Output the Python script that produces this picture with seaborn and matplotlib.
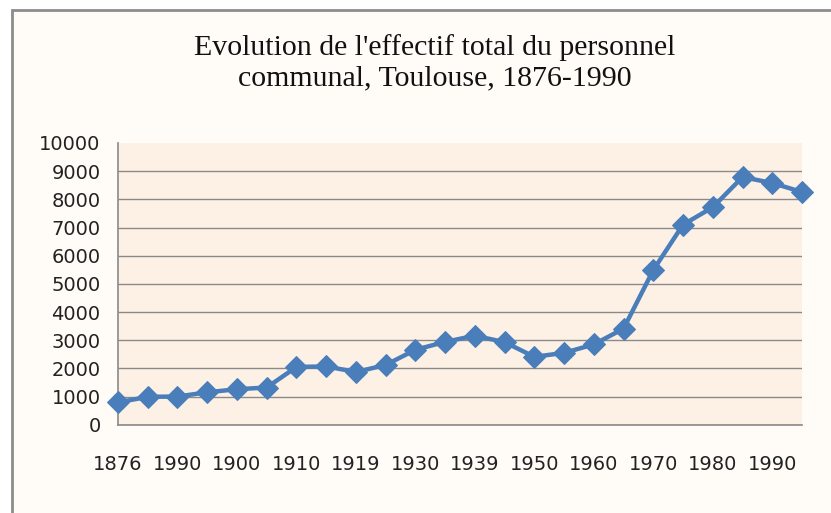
import numpy as np
import pandas as pd
import matplotlib
matplotlib.use("Agg")
import matplotlib.pyplot as plt
import matplotlib.patches as mpatches
import seaborn as sns

# Data (one value per category tick)
effectif = [790, 990, 1000, 1150, 1260, 1320, 2050, 2070, 1870, 2120,
            2660, 2940, 3160, 2930, 2410, 2550, 2850, 3410, 5490, 7100,
            7720, 8790, 8580, 8260]
# labels shown under every other tick (as printed in the source chart)
shown_labels = ["1876", "1990", "1900", "1910", "1919", "1930",
                "1939", "1950", "1960", "1970", "1980", "1990"]

title = "Evolution de l'effectif total du personnel\ncommunal, Toulouse, 1876-1990"

df = pd.DataFrame({"pos": np.arange(len(effectif)), "effectif": effectif})

sns.set_style("white")
plt.rcParams["font.family"] = ["DejaVu Sans"]

fig = plt.figure(figsize=(8.31, 5.13), dpi=100, facecolor="white")

# outer chart frame (only left and top edges visible)
frame = mpatches.Rectangle((12 / 831, -0.1), 1.2, 1.1 - 10 / 513,
                           transform=fig.transFigure, facecolor="#FFFBF6",
                           edgecolor="#8C8C8C", linewidth=2, zorder=0)
fig.add_artist(frame)

ax = fig.add_axes([118 / 831, (513 - 424.7) / 513,
                   (802 - 118) / 831, (424.7 - 143) / 513])
ax.set_facecolor("#FDF0E4")

sns.lineplot(data=df, x="pos", y="effectif", ax=ax, color="#4A7EBB",
             linewidth=3.2, marker="D", markersize=11,
             markeredgecolor="#4A7EBB", zorder=3, clip_on=False)

ax.set_xlim(0, len(effectif) - 1)
ax.set_ylim(0, 10000)
ax.set_yticks(np.arange(0, 10001, 1000))
ax.set_xticks(np.arange(len(effectif)))
xt = []
for i in range(len(effectif)):
    xt.append(shown_labels[i // 2] if i % 2 == 0 else "")
ax.set_xticklabels(xt, fontsize=14, color="#222222")
ax.set_yticklabels([str(v) for v in range(0, 10001, 1000)], fontsize=14,
                   color="#222222")

ax.grid(True, axis="y", color="#8A8A8A", linewidth=1)
for g in ax.get_ygridlines()[-1:]:
    g.set_visible(False)
ax.set_axisbelow(True)

ax.spines["top"].set_visible(False)
ax.spines["right"].set_visible(False)
for s in ("left", "bottom"):
    ax.spines[s].set_color("#8A8A8A")
    ax.spines[s].set_linewidth(1.2)

ax.tick_params(axis="x", direction="out", length=5, width=1, color="#8A8A8A", pad=17)
ax.tick_params(axis="y", direction="out", length=4.5, width=1, color="#8A8A8A", pad=8)
ax.set_xlabel("")
ax.set_ylabel("")

fig.text(435 / 831, 1 - 63 / 513, title, ha="center", va="center",
         fontsize=21.5, family="Liberation Serif", linespacing=1.22,
         color="#111111")

fig.savefig("out.png", dpi=100, facecolor=fig.get_facecolor())
